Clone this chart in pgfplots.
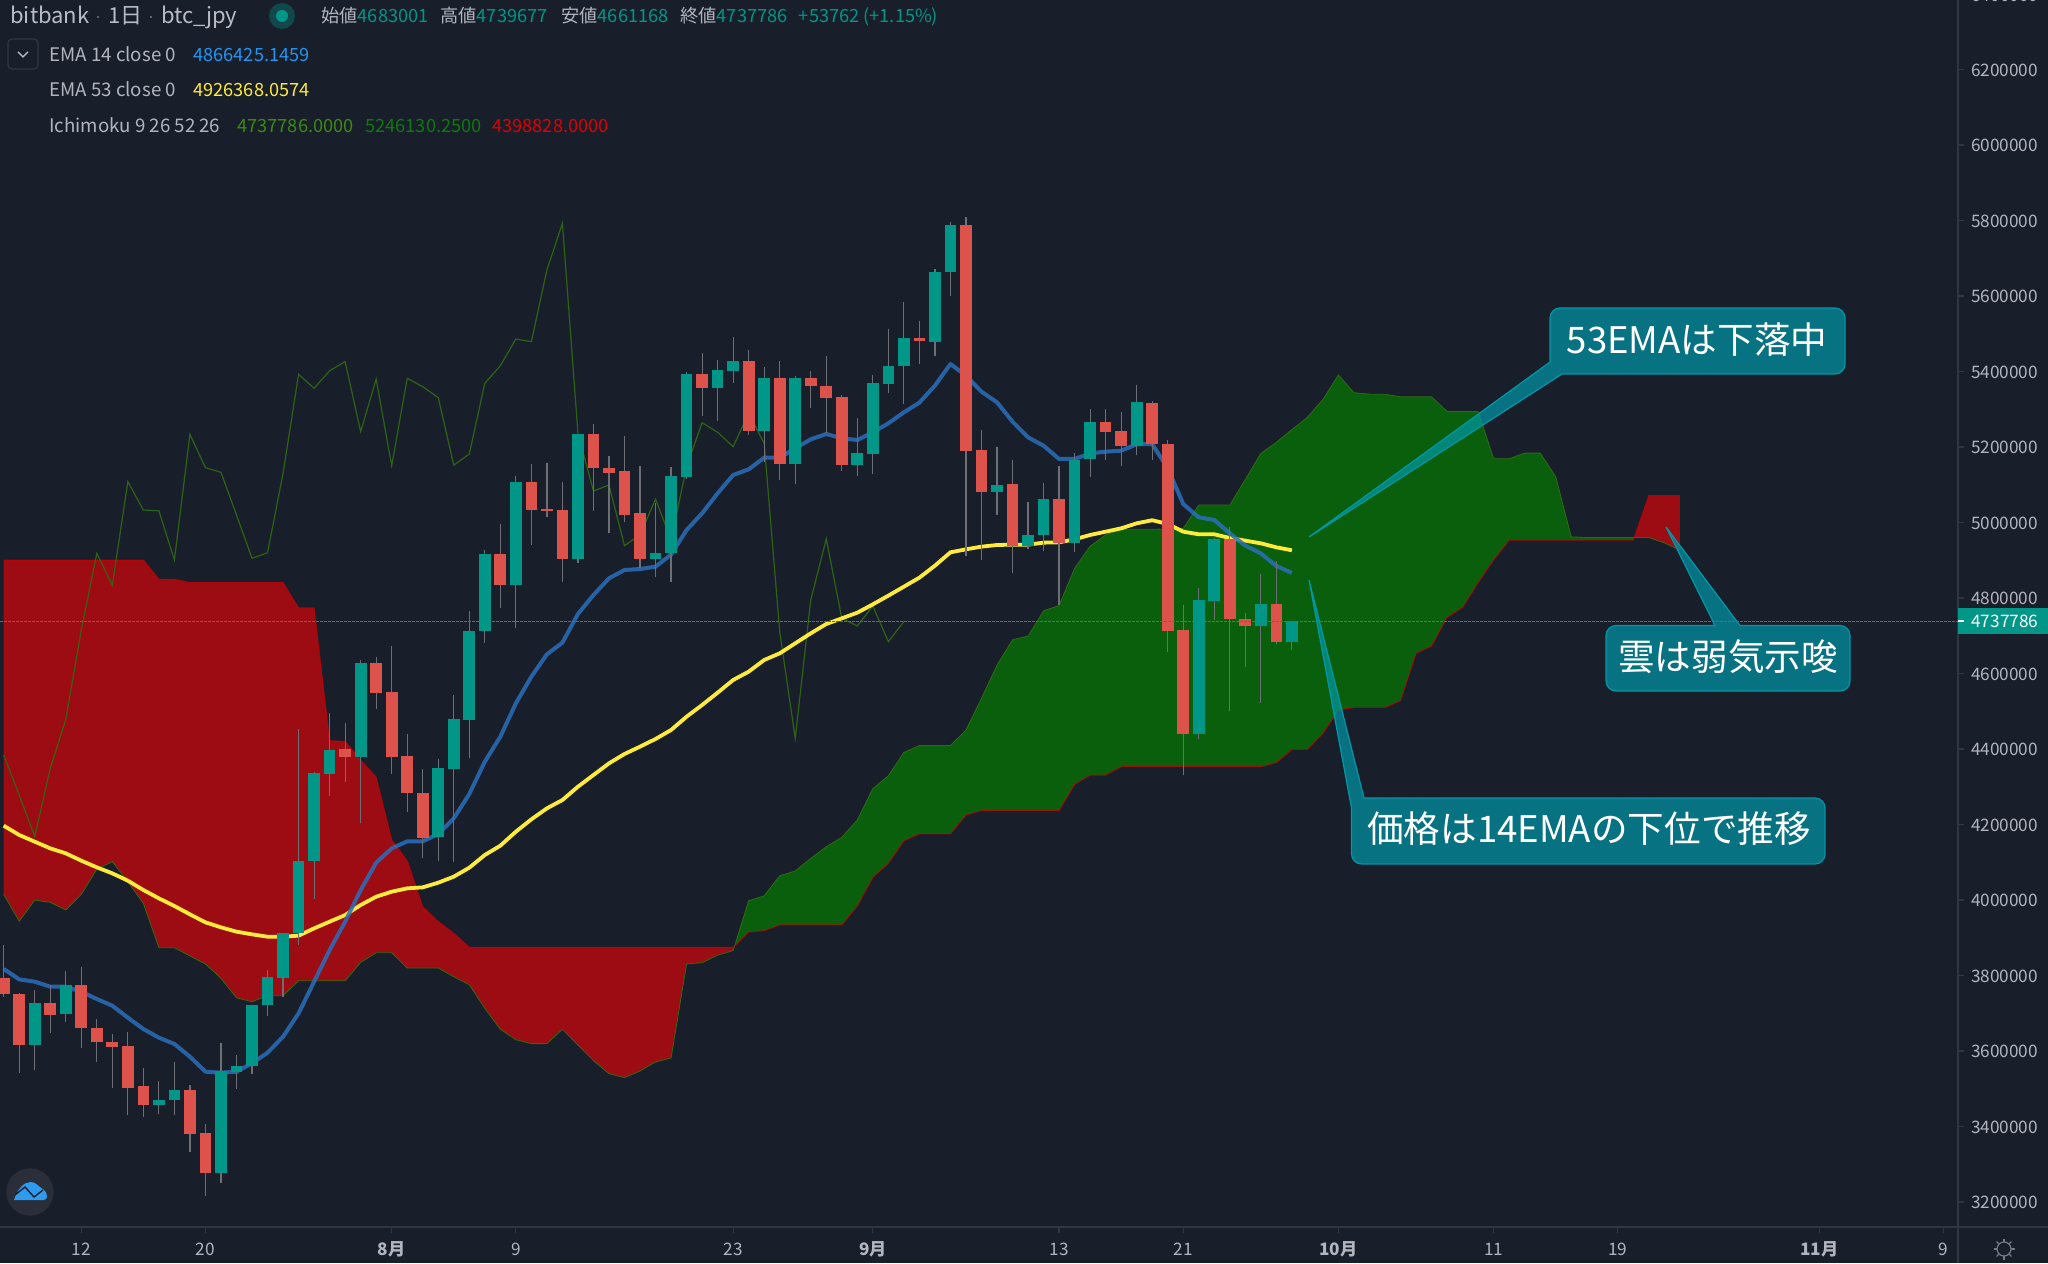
\documentclass[border=0pt]{standalone}
\usepackage{fontspec}
\setmainfont{Noto Sans CJK JP}
\usepackage{pgfplots}
\usepackage{pgfplotstable}
\pgfplotsset{compat=1.18}

\definecolor{bg}{HTML}{191E2B}
\definecolor{upc}{HTML}{009688}
\definecolor{downc}{HTML}{DD524A}
\definecolor{wick}{HTML}{6E6F74}
\definecolor{emablue}{HTML}{2A6FBB}
\definecolor{emayellow}{HTML}{FFEB3B}
\definecolor{cloudr}{HTML}{9C0C12}
\definecolor{cloudg}{HTML}{0A5F0C}
\definecolor{chikou}{HTML}{2F6B12}
\definecolor{axisc}{HTML}{323642}
\definecolor{labelc}{HTML}{B2B5BE}
\definecolor{callout}{HTML}{0097A7}
\definecolor{logobg}{HTML}{2A2E39}
\definecolor{logoblue}{HTML}{2E9BF0}

% prices in thousands of yen, x = candles counted from the 12th
% x hi top bot lo
\pgfplotstableread{
x hi top bot lo
-3 3761.5 3727.1 3615 3549.6
-1 3811.9 3773.9 3698 3675.9
5 3520.5 3470.1 3456.9 3433.1
6 3570.8 3496.6 3469.3 3430.4
9 3622 3546.1 3277.7 3249.4
10 3589.4 3560.2 3544.3 3500.2
11 3721.8 3721.8 3560.2 3539.9
12 3814.5 3795.1 3720.9 3693.5
13 3911.6 3911.6 3794.2 3743.9
14 4452.1 4103.3 3911.6 3880.7
15 4338.2 4335.6 4102.4 4002.6
16 4494.5 4398.2 4334.6 4276.4
18 4635.7 4628.7 4378.8 4203.1
23 4373.5 4349.6 4167.7 4104.2
24 4543 4478.6 4347.9 4101.5
25 4766.4 4712.6 4476.8 4376.1
26 4927.1 4917.4 4713.4 4681.7
28 5123.2 5108.2 4835.3 4719.6
32 5234.4 5234.4 4904.2 4893.6
37 5052.5 4919.2 4904.2 4855.6
38 5147.9 5122.3 4919.2 4841.5
39 5397.8 5393.4 5120.5 5115.3
41 5430.5 5404.9 5357.2 5269.8
42 5491.4 5426.9 5401.3 5368.6
44 5411 5381.9 5243.3 5161.1
46 5389 5382.8 5154.1 5101.1
50 5276.8 5183.2 5152.3 5124.1
51 5390.7 5369.5 5182.3 5129.3
52 5512.6 5414.6 5367.8 5343
53 5584.1 5488.7 5413.7 5314.8
55 5670.6 5664.5 5479 5441.9
56 5795.1 5788.1 5664.5 5600
59 5200.9 5100.2 5081.7 5020.7
61 5053.4 4966.9 4937.7 4928.9
62 5103.7 5062.3 4966.9 4925.4
64 5183.2 5166.4 4946.6 4922.7
65 5300.7 5266.2 5168.2 5121.4
68 5364.2 5319.2 5203.5 5178.8
72 4825.6 4794.7 4439.8 4426.5
73 4958.1 4955.5 4792.1 4741.7
76 4862.7 4784.1 4725.8 4521
78 4739.7 4737.8 4683 4661.2
}\candlesup

\pgfplotstableread{
x hi top bot lo
-5 3880.7 3793.4 3750.9 3743.9
-4 3754.5 3751.8 3615 3542.6
-2 3774.8 3727.1 3695.4 3648.5
0 3821.6 3773.9 3660 3608.8
1 3683.8 3660.9 3622.9 3569.9
2 3645 3623.8 3610.5 3502.8
3 3650.3 3613.2 3502.8 3430.4
4 3554 3506.4 3456.9 3426
7 3509.9 3496.6 3380.1 3331.5
8 3405.7 3382.7 3277.7 3216.7
17 4468 4399.1 4378.8 4313.4
19 4642.8 4628.7 4549.2 4505.1
20 4672.8 4551.9 4378.8 4333.8
21 4439.7 4381.4 4283.4 4233.1
22 4347 4282.5 4165.1 4110.4
27 4996 4916.6 4835.3 4774.4
29 5155 5108.2 5034 4940.4
30 5156.7 5034.9 5030.5 5015.4
31 5106.4 5033.1 4904.2 4843.3
33 5261.8 5234.4 5145.3 5030.5
34 5177 5145.3 5132 4971.3
35 5230 5136.4 5020.7 5000.4
36 5149.7 5024.3 4904.2 4878.6
40 5448.1 5393.4 5357.2 5282.1
43 5456.9 5426.9 5243.3 5231.8
45 5426.9 5381.9 5155.8 5112.6
47 5401.3 5382.8 5360.7 5304.2
48 5441.1 5360.7 5330.7 5236.2
49 5336.9 5332.4 5152.3 5137.3
54 5534.7 5488.7 5480.8 5420.7
57 5808.4 5788.1 5190.3 4912.1
58 5245 5192 5081.7 4900.7
60 5165.6 5102 4938.6 4867.1
63 5149.7 5062.3 4946.6 4781.5
66 5300.7 5266.2 5239.7 5165.6
67 5291.8 5242.4 5202.6 5150.5
69 5321.9 5316.6 5207.1 5165.6
70 5218.6 5208 4713.5 4657.9
71 4781.5 4715.2 4439.8 4330.3
74 4987.2 4955.5 4743.5 4501.6
75 4759.4 4744.4 4725.8 4618.1
77 4898 4784.1 4683.5 4678.2
}\candlesdown

% x ema14 ema53
\pgfplotstableread{
x e14 e53
-5 3817.2 4196.9
-4 3789.8 4172.2
-3 3783.6 4154.5
-2 3770.4 4136.8
-1 3770.4 4123.6
0 3757.1 4104.2
1 3737.7 4086.5
2 3720 4070.6
3 3688.3 4051.2
4 3658.2 4026.5
5 3635.3 4004.4
6 3618.5 3984.1
7 3584.9 3962
8 3545.2 3940.8
9 3542.6 3927.6
10 3545.2 3916.1
11 3567.3 3909
12 3595.5 3902.8
13 3637.9 3902.8
14 3699.7 3905.5
15 3783.6 3924.9
16 3867.5 3942.6
17 3942.6 3960.2
18 4026.4 3986.7
19 4098.9 4008.8
20 4136.8 4022
21 4155.4 4030.9
22 4155.4 4033.5
23 4174.8 4045.9
24 4216.3 4061.8
25 4280.8 4085.6
26 4366.4 4119.2
27 4432.7 4143.9
28 4521 4181
29 4591.6 4213.7
30 4650.8 4242.8
31 4681.7 4264.9
32 4757.6 4300.2
33 4807.9 4331.1
34 4852.1 4362
35 4874.2 4386.8
36 4876.8 4406.2
37 4883 4426.5
38 4915 4450.3
39 4980.1 4485.6
40 5024.3 4516.6
41 5077.3 4549.2
42 5125.8 4582.8
43 5140.8 4604.9
44 5171.7 4635.8
45 5171.7 4653.4
46 5196.5 4679.9
47 5220.3 4706.4
48 5234.4 4731.1
49 5223 4746.1
50 5218.5 4761.1
51 5238.8 4783.2
52 5262.7 4806.2
53 5291.8 4830
54 5317.4 4853.9
55 5362.5 4885.6
56 5419.9 4921
57 5389 4928.9
58 5346.6 4936
59 5318.3 4940.4
60 5267.1 4941.3
61 5225.6 4941.3
62 5203.5 4946.6
63 5168.2 4947.5
64 5168.2 4955.4
65 5183.2 4966.9
66 5187.6 4975.7
67 5190.3 4984.5
68 5207.1 4997.8
69 5207.9 5006
70 5143.5 4996
71 5049 4975.7
72 5013.7 4968.7
73 5006.6 4968.7
74 4971.3 4959
75 4938.6 4951.9
76 4918.3 4944.8
77 4884.8 4934.2
78 4866.4 4926.4
}\emas

% x senkou A, senkou B
\pgfplotstableread{
x a b
-5 4015 4900.6
-4 3944 4900.6
-3 3999.9 4900.6
-2 3993.8 4900.6
-1 3973.5 4900.6
0 4015 4900.6
1 4082 4900.6
2 4101.5 4900.6
3 4048.5 4900.6
4 3991 4900.6
5 3873.7 4849.4
6 3873.7 4849.4
7 3851.6 4840.6
8 3830.4 4840.6
9 3792.4 4840.6
10 3741 4840.6
11 3730.6 4840.6
12 3746.5 4840.6
13 3746.5 4840.6
14 3786 4773.5
15 3786 4773.5
16 3786 4422
17 3786 4420
18 3834.8 4370.8
19 3860.4 4325
20 3860.4 4159
21 3819.8 4104
22 3819.8 3982
23 3819.8 3942.6
24 3796.9 3911.7
25 3775.7 3874.6
26 3713 3874.6
27 3657.6 3874.6
28 3630 3874.6
29 3619.6 3874.6
30 3619.6 3874.6
31 3657.6 3874.6
32 3616 3874.6
33 3574.6 3874.6
34 3540 3874.6
35 3529.6 3874.6
36 3547 3874.6
37 3571 3874.6
38 3581.5 3874.6
39 3830.6 3874.6
40 3834 3874.6
41 3854 3874.6
42 3866 3874.6
43 3998 3915
44 4011 3918.8
45 4064 3933.8
46 4076.8 3933.8
47 4110 3933.8
48 4141 3933.8
49 4166 3933.8
50 4212 3984
51 4295 4060
52 4329 4097
53 4391 4157
54 4409 4175
55 4409 4175
56 4409 4175
57 4450 4225
58 4534 4237
59 4622 4237
60 4689 4237
61 4699 4237
62 4766 4237
63 4780 4237
64 4878.6 4306
65 4937 4331
66 4966.9 4331
67 4982 4353
68 4982 4353
69 4982 4353
70 4983 4353
71 4984 4353
72 5046.3 4353
73 5046.3 4353
74 5046.3 4353
75 5114 4353
76 5183 4353
77 5212.4 4364
78 5246.1 4398.8
79 5278.6 4399
80 5326 4441.5
81 5390.7 4503
82 5343.9 4510
83 5340 4510
84 5339.5 4510
85 5333 4528
86 5333 4653.4
87 5333 4673
88 5294 4748.8
89 5294 4775
90 5294 4841
91 5169 4901
92 5169 4953
93 5183.8 4953
94 5183.8 4953
95 5121 4953
96 4961.9 4953
97 4960 4953
98 4960 4953
99 4960 4953
100 4960 4953
101 4960 5071
102 4946 5071
103 4927 5071
}\senkou

\pgfplotstableread{
x y
-5 4384
-4 4278
-3 4168
-2 4348.8
-1 4479
0 4715
1 4918
2 4834.4
3 5108
4 5033
5 5031
6 4900.7
7 5233.5
8 5145
9 5132.9
10 5019.9
11 4905
12 4920
13 5130
14 5392.5
15 5355.4
16 5402
17 5426
18 5240.6
19 5380
20 5150.5
21 5382
22 5359.8
23 5330.7
24 5152
25 5181.4
26 5368.6
27 5415.5
28 5486
29 5479
30 5668.9
31 5792.5
32 5236
33 5083.4
34 5099.3
35 4938.6
36 4966.9
37 5062
38 4953.6
39 5147.9
40 5264.4
41 5238.9
42 5200.9
43 5289.2
44 5209.7
45 4710.8
46 4428
47 4794.7
48 4956.3
49 4746
50 4725.8
51 4778.8
52 4684.3
53 4737.8
}\chikoutab

\begin{document}
\begin{tikzpicture}
\fill[bg] (0,0) rectangle (1024pt,631.5pt);

\begin{axis}[
    at={(0pt,18pt)}, anchor=south west,
    scale only axis, width=979pt, height=613.5pt,
    xmin=-5.238, xmax=120.92, ymin=3133.8, ymax=6384.1,
    axis x line=bottom, axis y line=right,
    axis line style={-, color=axisc, line width=0.6pt},
    tick style={color=axisc, line width=0.6pt},
    major tick length=3pt,
    tick align=outside,
    xtick={0,8,20,28,42,51,63,71,81,91,99,112,120},
    xticklabels={12,20,\textbf{8月},9,23,\textbf{9月},13,21,\textbf{10月},11,19,\textbf{11月},9},
    ytick={3200,3400,3600,3800,4000,4200,4400,4600,4800,5000,5200,5400,5600,5800,6000,6200},
    yticklabels={3200000,3400000,3600000,3800000,4000000,4200000,4400000,4600000,4800000,5000000,5200000,5400000,5600000,5800000,6000000,6200000},
    tick label style={font=\fontsize{8.6}{10}\selectfont, color=labelc},
    xticklabel style={anchor=base, yshift=-11pt},
    yticklabel style={yshift=-0.4pt},
]

% cloud, one closed outline per colour: upper edge forward, lower edge back
\addplot[fill=cloudr, draw=none, no marks, forget plot] coordinates {
    (-5,4900.6)(4,4900.6)(5,4849.4)(6,4849.4)(7,4840.6)(13,4840.6)(14,4773.5)(15,4773.5)
    (16,4422)(17,4420)(18,4370.8)(19,4325)(20,4159)(21,4104)(22,3982)(23,3942.6)(24,3911.7)
    (25,3874.6)(42,3874.6)(42.09,3878.4)
    (42,3866)(41,3854)(40,3834)(39,3830.6)(38,3581.5)(37,3571)(36,3547)(35,3529.6)(34,3540)
    (33,3574.6)(32,3616)(31,3657.6)(30,3619.6)(29,3619.6)(28,3630)(27,3657.6)(26,3713)
    (25,3775.7)(24,3796.9)(23,3819.8)(22,3819.8)(21,3819.8)(20,3860.4)(19,3860.4)(18,3834.8)
    (17,3786)(16,3786)(15,3786)(14,3786)(13,3746.5)(12,3746.5)(11,3730.6)(10,3741)(9,3792.4)
    (8,3830.4)(7,3851.6)(6,3873.7)(5,3873.7)(4,3991)(3,4048.5)(2,4101.5)(1,4082)(0,4015)
    (-1,3973.5)(-2,3993.8)(-3,3999.9)(-4,3944)(-5,4015)
} --cycle;
\addplot[fill=cloudg, draw=none, no marks, forget plot] coordinates {
    (42.09,3878.4)(43,3998)(44,4011)(45,4064)(46,4076.8)(47,4110)(48,4141)(49,4166)(50,4212)
    (51,4295)(52,4329)(53,4391)(54,4409)(56,4409)(57,4450)(58,4534)(59,4622)(60,4689)(61,4699)
    (62,4766)(63,4780)(64,4878.6)(65,4937)(66,4966.9)(67,4982)(69,4982)(70,4983)(71,4984)
    (72,5046.3)(74,5046.3)(75,5114)(76,5183)(77,5212.4)(78,5246.1)(79,5278.6)(80,5326)
    (81,5390.7)(82,5343.9)(83,5340)(84,5339.5)(85,5333)(87,5333)(88,5294)(90,5294)(91,5169)
    (92,5169)(93,5183.8)(94,5183.8)(95,5121)(96,4961.9)(100,4960)(100.06,4960)
    (100,4953)(92,4953)(91,4901)(90,4841)(89,4775)(88,4748.8)(87,4673)(86,4653.4)(85,4528)
    (84,4510)(82,4510)(81,4503)(80,4441.5)(79,4399)(78,4398.8)(77,4364)(76,4353)(67,4353)
    (66,4331)(65,4331)(64,4306)(63,4237)(58,4237)(57,4225)(56,4175)(54,4175)(53,4157)(52,4097)
    (51,4060)(50,3984)(49,3933.8)(45,3933.8)(44,3918.8)(43,3915)
} --cycle;
\addplot[fill=cloudr, draw=none, no marks, forget plot] coordinates {
    (100.06,4960)(101,5071)(103,5071)(103,4927)(102,4946)(101,4960)
} --cycle;
\addplot[forget plot, color=chikou, line width=0.4pt] table[x=x, y=a] {\senkou};
\addplot[forget plot, color=red!80!black, line width=0.5pt, opacity=0.7] table[x=x, y=b] {\senkou};

% lagging line
\addplot[chikou, line width=0.6pt, opacity=0.9, forget plot] table[x=x, y=y] {\chikoutab};

% moving averages
\addplot[emayellow, line width=1.9pt, line join=round, forget plot] table[x=x, y=e53] {\emas};
\addplot[emablue, line width=2pt, line join=round, opacity=0.85, forget plot] table[x=x, y=e14] {\emas};

% wicks
\addplot[draw=none, no marks, forget plot, error bars/.cd, y dir=plus, y explicit, error mark=none,
    error bar style={line width=0.6pt, draw=wick, solid}]
    table[x=x, y=lo, y error plus expr=\thisrow{hi}-\thisrow{lo}] {\candlesup};
\addplot[draw=none, no marks, forget plot, error bars/.cd, y dir=plus, y explicit, error mark=none,
    error bar style={line width=0.6pt, draw=wick, solid}]
    table[x=x, y=lo, y error plus expr=\thisrow{hi}-\thisrow{lo}] {\candlesdown};

% bodies
\addplot[draw=none, no marks, forget plot, error bars/.cd, y dir=plus, y explicit, error mark=none,
    error bar style={line width=5.85pt, draw=upc, solid}]
    table[x=x, y=bot, y error plus expr=\thisrow{top}-\thisrow{bot}] {\candlesup};
\addplot[draw=none, no marks, forget plot, error bars/.cd, y dir=plus, y explicit, error mark=none,
    error bar style={line width=5.85pt, draw=downc, solid}]
    table[x=x, y=bot, y error plus expr=\thisrow{top}-\thisrow{bot}] {\candlesdown};

% last close
\addplot[upc, line width=0.55pt, dash pattern=on 1.25pt off 0.75pt, forget plot]
    coordinates {(-5.238,4737.786) (120.92,4737.786)};
\end{axis}

\begin{scope}[shift={(0,631.5pt)}, x=0.5pt, y=-0.5pt]
  % axis lines running into the corner
  \draw[axisc, line width=0.6pt] (1958,1227) -- (2048,1227);
  \draw[axisc, line width=0.6pt] (1958,1227) -- (1958,1263);

  % last price tag
  \fill[upc] (1958,608) rectangle (2048,634);
  \draw[white, line width=0.6pt] (1958,621) -- (1964,621);
  \node[anchor=base west, inner sep=0, text=white, font=\fontsize{8.6}{10}\selectfont] at (1971,627.5) {4737786};
  \node[anchor=base west, inner sep=0, text=labelc, font=\fontsize{8.6}{10}\selectfont] at (1971,1.5) {6400000};

  % header
  \node[anchor=base west, inner sep=0, text=labelc!90!white, font=\fontsize{11}{13}\selectfont] at (10,24) {bitbank};
  \fill[labelc!60!bg] (98,17) circle (1.2);
  \node[anchor=base west, inner sep=0, text=labelc!90!white, font=\fontsize{11}{13}\selectfont] at (108,24) {1日};
  \fill[labelc!60!bg] (151,17) circle (1.2);
  \node[anchor=base west, inner sep=0, text=labelc!90!white, font=\fontsize{11}{13}\selectfont] at (161,24) {btc\_jpy};
  \fill[upc!35!bg] (282,16) circle (13);
  \fill[upc] (282,16) circle (6);

  \tikzset{hd/.style={anchor=base west, inner sep=0, font=\fontsize{9.1}{11}\selectfont},
           hl/.style={anchor=base west, inner sep=0, text=labelc, font=\fontsize{9.35}{11}\selectfont}}
  \node[hd, text=labelc] at (321,22.5) {始値\textcolor{upc}{4683001}};
  \node[hd, text=labelc] at (440,22.5) {高値\textcolor{upc}{4739677}};
  \node[hd, text=labelc] at (561,22.5) {安値\textcolor{upc}{4661168}};
  \node[hd, text=labelc] at (680,22.5) {終値\textcolor{upc}{4737786}};
  \node[hd, text=upc] at (798.5,22.5) {+53762 (+1.15\%)};

  \draw[axisc, rounded corners=2pt, line width=0.6pt] (8,39) rectangle (38,69);
  \draw[labelc, line width=0.7pt] (18,52) -- (23,57) -- (28,52);

  \node[hl] at (49,61.5) {EMA 14 close 0};
  \node[hd] at (193,61.5) {\textcolor[HTML]{2196F3}{4866425.1459}};
  \node[hl] at (49,97) {EMA 53 close 0};
  \node[hd, text=emayellow] at (193,97) {4926368.0574};
  \node[hl] at (49,132.5) {Ichimoku 9 26 52 26};
  \node[hd] at (237,132.5) {\textcolor[HTML]{3A8C10}{4737786.0000}};
  \node[hd] at (365,132.5) {\textcolor[HTML]{0E7A0E}{5246130.2500}};
  \node[hd] at (492,132.5) {\textcolor[HTML]{E00000}{4398828.0000}};

  % logo
  \fill[logobg] (30,1192) circle (23.7);
  \fill[logoblue] (14,1200) .. controls (18,1188) and (24,1182) .. (31,1182)
      .. controls (36,1182) and (39,1187) .. (44,1190) .. controls (48,1193) and (48,1200) .. (44,1200) -- cycle;
  \draw[bg, line width=0.7pt] (15,1195) -- (25,1187) -- (34,1197) -- (43,1190);

  % settings icon
  \draw[labelc!60!bg, line width=0.6pt] (2004,1249) circle (7);
  \foreach \a in {0,45,...,315}
    \draw[labelc!60!bg, line width=0.6pt] (2004,1249) ++(\a:7) -- ++(\a:3.5);

  % callouts
  \tikzset{call/.style={draw=callout, line width=0.6pt, fill=callout, fill opacity=0.7},
           calltxt/.style={anchor=base, inner sep=0, text=white, font=\fontsize{18.3}{22}\selectfont}}
  \path[call] (1550,362) -- (1309,537) -- (1562,374) [rounded corners=5pt] -- (1845,374) -- (1845,308) -- (1550,308) [sharp corners] -- cycle;
  \node[calltxt] at (1697,354) {53EMAは下落中};

  \path[call] (1715,625.5) -- (1666,527) -- (1740,625.5) [rounded corners=5pt] -- (1850,625.5) -- (1850,691) -- (1606,691) -- (1606,625.5) [sharp corners] -- cycle;
  \node[calltxt] at (1728,671) {雲は弱気示唆};

  \path[call] (1351.5,808) -- (1309,580) -- (1364,798) [rounded corners=5pt] -- (1825,798) -- (1825,864) -- (1351.5,864) [sharp corners] -- cycle;
  \node[calltxt] at (1589,843) {価格は14EMAの下位で推移};
\end{scope}
\pgfresetboundingbox
\path[use as bounding box] (0,0) rectangle (1024pt,631.5pt);
\end{tikzpicture}
\end{document}
